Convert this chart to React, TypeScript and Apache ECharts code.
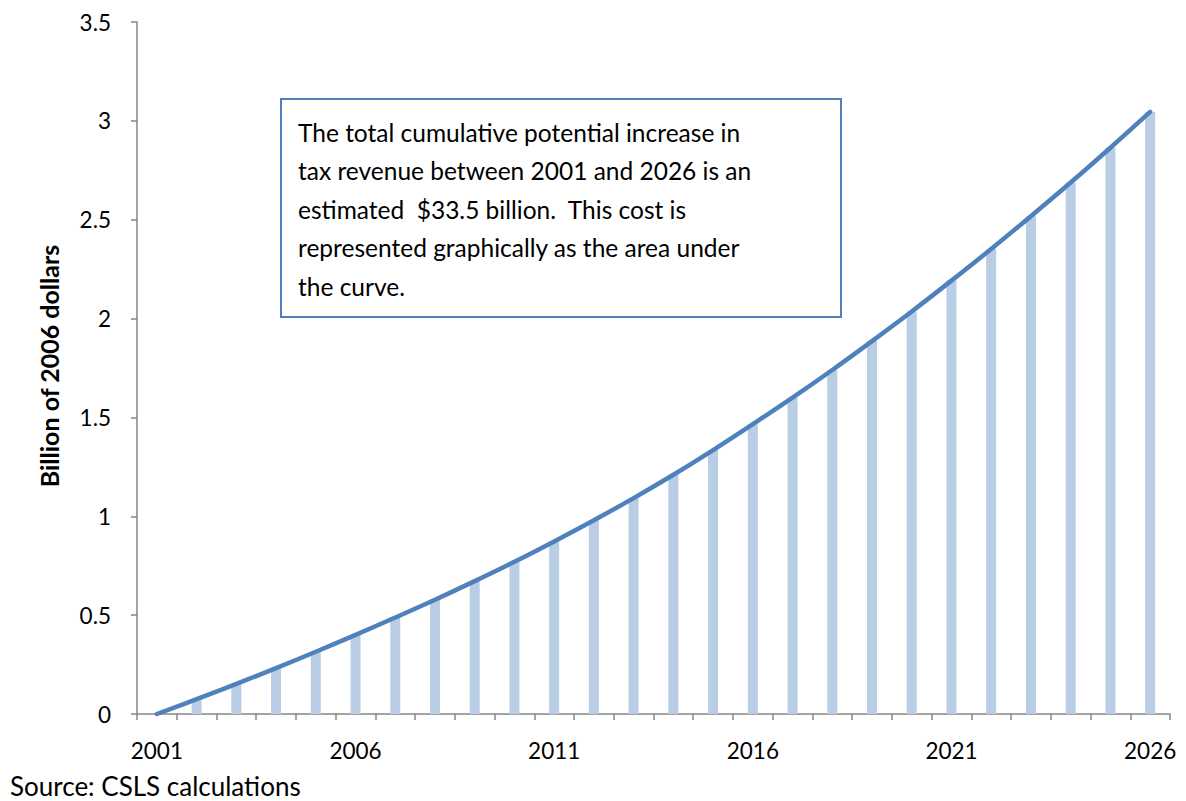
import React, { useEffect, useRef } from "react";
import * as echarts from "echarts";

const years: string[] = [
  "2001", "2002", "2003", "2004", "2005", "2006", "2007", "2008", "2009", "2010",
  "2011", "2012", "2013", "2014", "2015", "2016", "2017", "2018", "2019", "2020",
  "2021", "2022", "2023", "2024", "2025", "2026",
];
const revenue: number[] = [
  0, 0.075, 0.152, 0.232, 0.315, 0.4, 0.488, 0.578, 0.672, 0.77,
  0.873, 0.98, 1.092, 1.21, 1.335, 1.466, 1.6, 1.74, 1.886, 2.036,
  2.192, 2.352, 2.518, 2.688, 2.864, 3.045,
];
const yTitle = "Billion of 2006 dollars";
const sourceText = "Source: CSLS calculations";
const noteLines: string[] = [
  "The total cumulative potential increase in",
  "tax revenue between 2001 and 2026 is an",
  "estimated  $33.5 billion.  This cost is",
  "represented graphically as the area under",
  "the curve.",
];

const FONT = "Lato, 'Open Sans', sans-serif";

export default function App() {
  const ref = useRef<HTMLDivElement>(null);
  useEffect(() => {
    if (!ref.current) return;
    const chart = echarts.init(ref.current, undefined, { renderer: "svg" });
    chart.setOption({
      animation: false,
      backgroundColor: "#ffffff",
      grid: { left: 137, top: 22, width: 1033, height: 692, containLabel: false },
      xAxis: {
        type: "category",
        data: years,
        boundaryGap: true,
        axisLine: { lineStyle: { color: "#868686", width: 1.5 } },
        axisTick: { show: true, interval: 0, length: 6, lineStyle: { color: "#868686", width: 1.5 } },
        axisLabel: { interval: 4, color: "#000", fontFamily: FONT, fontSize: 22.5, margin: 25 },
        splitLine: { show: false },
      },
      yAxis: {
        type: "value",
        min: 0,
        max: 3.5,
        interval: 0.5,
        axisLine: { show: true, lineStyle: { color: "#868686", width: 1.5 } },
        axisTick: { show: true, length: 6, lineStyle: { color: "#868686", width: 1.5 } },
        axisLabel: { color: "#000", fontFamily: FONT, fontSize: 22.5, margin: 26 },
        splitLine: { show: false },
      },
      series: [
        {
          type: "bar",
          data: revenue,
          barWidth: 10,
          itemStyle: { color: "#B9CDE5" },
          z: 1,
        },
        {
          type: "line",
          data: revenue,
          smooth: 0.4,
          showSymbol: false,
          lineStyle: { color: "#4F81BD", width: 4.5, cap: "round" },
          itemStyle: { color: "#4F81BD" },
          z: 3,
        },
      ],
      graphic: [
        {
          type: "rect",
          shape: { x: 281, y: 99, width: 560, height: 218 },
          style: { fill: "#ffffff", stroke: "#4F81BD", lineWidth: 2 },
          z: 10,
        },
        {
          type: "text",
          x: 298,
          y: 113,
          style: {
            text: noteLines.join("\n"),
            fontFamily: FONT,
            fontSize: 24.5,
            lineHeight: 38.5,
            fill: "#000",
          },
          z: 11,
        },
        {
          type: "text",
          x: 49,
          y: 366,
          rotation: Math.PI / 2,
          style: {
            text: yTitle,
            fontFamily: FONT,
            fontSize: 25,
            fontWeight: "bold",
            fill: "#000",
            align: "center",
            verticalAlign: "middle",
          },
          z: 11,
        },
        {
          type: "text",
          x: 10,
          y: 786,
          style: {
            text: sourceText,
            fontFamily: FONT,
            fontSize: 26,
            fill: "#000",
            align: "left",
            verticalAlign: "middle",
          },
          z: 11,
        },
      ],
    });
    return () => chart.dispose();
  }, []);
  return (
    <div
      ref={ref}
      style={{ position: "fixed", left: 0, top: 0, width: 1186, height: 801, background: "#fff" }}
    />
  );
}
